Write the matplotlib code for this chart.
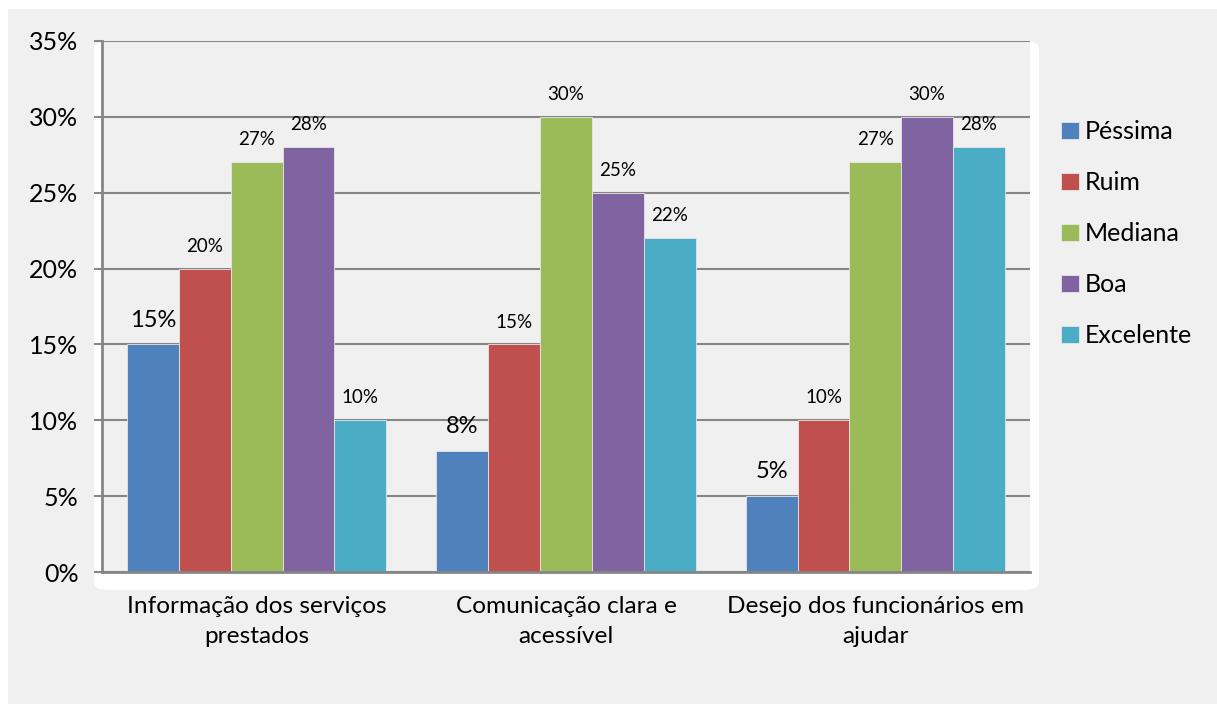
import matplotlib
matplotlib.use("Agg")
import matplotlib.pyplot as plt
from matplotlib.patches import FancyBboxPatch, Rectangle
import numpy as np

categories = ["Informação dos serviços\nprestados", "Comunicação clara e\nacessível", "Desejo dos funcionários em\najudar"]
series_names = ["Péssima", "Ruim", "Mediana", "Boa", "Excelente"]
pessima = [15, 8, 5]
ruim = [20, 15, 10]
mediana = [27, 30, 27]
boa = [28, 25, 30]
excelente = [10, 22, 28]
y_ticks = [0, 5, 10, 15, 20, 25, 30, 35]

colors = ["#4F81BD", "#C0504D", "#9BBB59", "#8064A2", "#4BACC6"]
plt.rcParams['font.family'] = ['Lato', 'DejaVu Sans']

W, H = 1217, 704
fig = plt.figure(figsize=(W / 100, H / 100), dpi=100)
fig.patch.set_facecolor("white")
bg = "#f0f0f0"
fig.patches.append(Rectangle((8 / W, 0), 1 - 8 / W, 1 - 9 / H, transform=fig.transFigure,
                             facecolor=bg, edgecolor="none", zorder=-2))
# white rounded frame behind plot area
fig.patches.append(FancyBboxPatch((94 / W, 1 - 590 / H), (1039 - 94) / W, (590 - 41) / H,
                                  boxstyle="round,pad=0,rounding_size=0.012",
                                  transform=fig.transFigure, facecolor="white",
                                  edgecolor="none", zorder=-1))

ax = fig.add_axes([102 / W, 1 - 572 / H, (1030 - 102) / W, (572 - 41) / H])
ax.set_facecolor(bg)

data = [pessima, ruim, mediana, boa, excelente]
x = np.arange(len(categories))
bw = 0.1675
for i, (name, vals) in enumerate(zip(series_names, data)):
    pos = x + (i - 2) * bw
    bars = ax.bar(pos, vals, width=bw, color=colors[i], edgecolor="#e6e6e6", linewidth=0.6,
                  label=name, zorder=3)
    fs = 17 if i == 0 else 13.5
    for b, v in zip(bars, vals):
        ax.annotate(f"{v}%", (b.get_x() + b.get_width() / 2, v), xytext=(0, 10),
                    textcoords="offset points", ha="center", va="bottom", fontsize=fs,
                    color="black", zorder=4)

ax.set_xlim(-0.5, 2.5)
ax.set_ylim(0, 35)
ax.set_yticks(y_ticks)
ax.set_yticklabels([f"{t}%" for t in y_ticks], fontsize=18)
ax.set_xticks(x)
ax.set_xticklabels(categories, fontsize=17.6, linespacing=1.55)
ax.tick_params(axis="x", length=0, pad=17)
ax.tick_params(axis="y", length=6, width=1.5, color="#868686", pad=11)
ax.yaxis.grid(True, color="#868686", linewidth=1.5, zorder=1)
ax.set_axisbelow(True)
for s in ["top", "right"]:
    ax.spines[s].set_visible(False)
for s in ["left", "bottom"]:
    ax.spines[s].set_color("#868686")
    ax.spines[s].set_linewidth(2)
    ax.spines[s].set_zorder(5)

leg = fig.legend(loc="upper left", bbox_to_anchor=(1051 / W, 1 - 110 / H), frameon=False,
                 fontsize=18, handlelength=0.7, handleheight=0.7, handletextpad=0.25,
                 labelspacing=1.12, borderaxespad=0)

fig.savefig("out.png", dpi=100, facecolor=fig.get_facecolor())
